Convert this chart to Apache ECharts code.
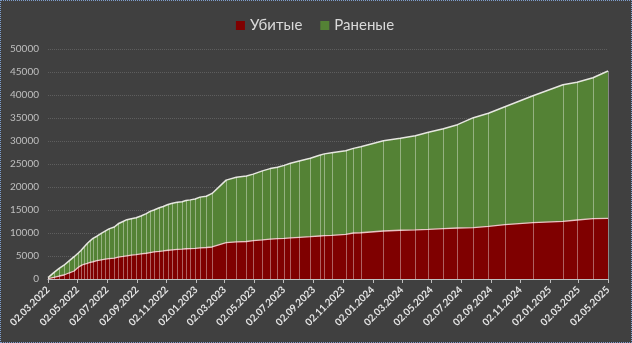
<!DOCTYPE html>
<html>
<head>
<meta charset="utf-8">
<script src="https://cdn.jsdelivr.net/npm/echarts@6/dist/echarts.min.js"></script>
<style>
  html, body { margin: 0; padding: 0; background: #ffffff; }
  #wrap { width: 632px; height: 343px; box-sizing: border-box; border: 1px dotted #7f9fcf; background: #404040; }
  #chart { width: 628px; height: 341px; }
</style>
</head>
<body>
<div id="wrap"><div id="chart"></div></div>
<script>
// Report dates (cumulative totals)
const dates = [
  '2022-03-02','2022-03-14','2022-03-25','2022-04-04','2022-04-14','2022-04-25','2022-05-03','2022-05-09',
  '2022-05-15','2022-05-22','2022-05-28','2022-06-03','2022-06-11','2022-06-20','2022-06-28','2022-07-06',
  '2022-07-17','2022-07-25','2022-08-04','2022-08-12','2022-08-21','2022-08-31','2022-09-10','2022-09-21',
  '2022-09-29','2022-10-07','2022-10-18','2022-10-26','2022-11-05','2022-11-14','2022-11-24','2022-12-04',
  '2022-12-12','2022-12-21','2022-12-31','2023-01-10','2023-01-23','2023-02-04','2023-03-05','2023-03-26',
  '2023-04-16','2023-04-30','2023-05-19','2023-06-04','2023-06-19','2023-07-03','2023-07-16','2023-08-03',
  '2023-08-26','2023-09-14','2023-09-24','2023-10-09','2023-11-07','2023-11-23','2023-12-08','2024-01-24',
  '2024-02-28','2024-03-30','2024-04-26','2024-05-27','2024-06-25','2024-07-28','2024-08-28','2024-10-01',
  '2024-11-28','2025-01-29','2025-02-27','2025-04-01','2025-05-02'
];

// Убитые
const killed = [
  100, 350, 650, 870, 1300, 1740, 2500, 2900,
  3200, 3400, 3600, 3750, 3980, 4150, 4300, 4450,
  4550, 4750, 4900, 5050, 5200, 5300, 5450, 5600,
  5750, 5900, 6000, 6100, 6250, 6350, 6450, 6500,
  6580, 6620, 6660, 6750, 6850, 6960, 7900, 8050,
  8150, 8330, 8500, 8650, 8760, 8850, 8950, 9070,
  9200, 9350, 9420, 9500, 9700, 10000, 10050, 10430,
  10600, 10700, 10800, 10950, 11090, 11150, 11450, 11800,
  12240, 12540, 12830, 13110, 13200
];

// Раненые
const wounded = [
  200, 1050, 1650, 2130, 2600, 3110, 3100, 3300,
  3700, 4300, 4700, 5100, 5320, 5750, 6100, 6450,
  6750, 7250, 7600, 7850, 7900, 8000, 8250, 8600,
  8950, 9100, 9500, 9650, 9950, 10100, 10250, 10300,
  10470, 10580, 10740, 11050, 11150, 11640, 13600, 14050,
  14250, 14470, 15000, 15350, 15540, 15850, 16200, 16580,
  17050, 17550, 17780, 17950, 18200, 18400, 18700, 19640,
  19990, 20460, 21090, 21730, 22460, 23920, 24570, 25660,
  27610, 29700, 29930, 30650, 32020
];

// Date axis tick labels, every two months
const tickLabels = [
  '02.03.2022','02.05.2022','02.07.2022','02.09.2022','02.11.2022','02.01.2023','02.03.2023',
  '02.05.2023','02.07.2023','02.09.2023','02.11.2023','02.01.2024','02.03.2024','02.05.2024',
  '02.07.2024','02.09.2024','02.11.2024','02.01.2025','02.03.2025','02.05.2025'
];

const DAY = 86400000;
// dates are placed on a day-number scale (UTC) so the axis is linear in days
function isoToDay(s) {
  const p = s.split('-');
  return Date.UTC(+p[0], +p[1] - 1, +p[2]) / DAY;
}
function labelToDay(label) {
  const p = label.split('.');
  return Date.UTC(+p[2], +p[1] - 1, +p[0]) / DAY;
}
function dayToLabel(day) {
  const d = new Date(Math.round(day) * DAY);
  const pad = n => (n < 10 ? '0' : '') + n;
  return pad(d.getUTCDate()) + '.' + pad(d.getUTCMonth() + 1) + '.' + d.getUTCFullYear();
}

const dayNums = dates.map(isoToDay);
const tickDays = tickLabels.map(labelToDay);
// stacked top = killed + wounded
const totals = killed.map((k, i) => k + wounded[i]);

const chart = echarts.init(document.getElementById('chart'));
const FONT = 'Lato, "Open Sans", sans-serif';

chart.setOption({
  backgroundColor: '#404040',
  animation: false,
  textStyle: { fontFamily: FONT },
  legend: {
    top: 12,
    left: 'center',
    icon: 'rect',
    itemWidth: 9,
    itemHeight: 9,
    itemGap: 18,
    data: ['Убитые', 'Раненые'],
    textStyle: { color: '#d9d9d9', fontSize: 15, fontFamily: FONT }
  },
  grid: { left: 47, right: 21, top: 48, bottom: 63, containLabel: false },
  xAxis: {
    type: 'value',
    min: tickDays[0],
    max: tickDays[tickDays.length - 1],
    axisLine: { lineStyle: { color: '#bfbfbf', width: 1 } },
    axisTick: { show: true, length: 4, lineStyle: { color: '#bfbfbf' }, customValues: tickDays },
    axisLabel: {
      customValues: tickDays,
      rotate: 45,
      margin: 9,
      color: '#e3e3e3',
      fontSize: 10,
      fontWeight: 'bold',
      fontFamily: FONT,
      formatter: v => dayToLabel(v),
      hideOverlap: false
    },
    splitLine: { show: false }
  },
  yAxis: {
    type: 'value',
    min: 0,
    max: 50000,
    interval: 5000,
    axisLine: { show: false },
    axisTick: { show: false },
    axisLabel: { color: '#bfbfbf', fontSize: 10, margin: 9, fontFamily: FONT, formatter: v => String(v) },
    splitLine: { lineStyle: { color: '#5e5e5e', type: 'dotted', width: 1 } }
  },
  series: [
    {
      // upper band: drawn from 0 up to the stacked total, red area is laid over it
      name: 'Раненые',
      type: 'line',
      symbol: 'none',
      z: 2,
      itemStyle: { color: '#548235' },
      lineStyle: { color: '#e6e6e0', width: 1.5 },
      areaStyle: { color: '#548235', opacity: 1 },
      data: dayNums.map((d, i) => [d, totals[i]])
    },
    {
      name: 'Убитые',
      type: 'line',
      symbol: 'none',
      z: 3,
      itemStyle: { color: '#7f0000' },
      lineStyle: { color: '#e8c4c4', width: 1.3 },
      areaStyle: { color: '#7f0000', opacity: 1 },
      data: dayNums.map((d, i) => [d, killed[i]])
    },
    {
      // vertical drop lines at each report date
      name: 'drop',
      type: 'custom',
      z: 4,
      silent: true,
      data: dayNums.map((d, i) => [d, totals[i]]),
      encode: { x: 0, y: 1 },
      renderItem: function (params, api) {
        const top = api.coord([api.value(0), api.value(1)]);
        const bottom = api.coord([api.value(0), 0]);
        const x = Math.round(top[0]) + 0.5;
        return {
          type: 'line',
          shape: { x1: x, y1: top[1], x2: x, y2: bottom[1] },
          style: { stroke: 'rgba(255,255,255,0.38)', lineWidth: 1 }
        };
      }
    }
  ]
});
</script>
</body>
</html>
